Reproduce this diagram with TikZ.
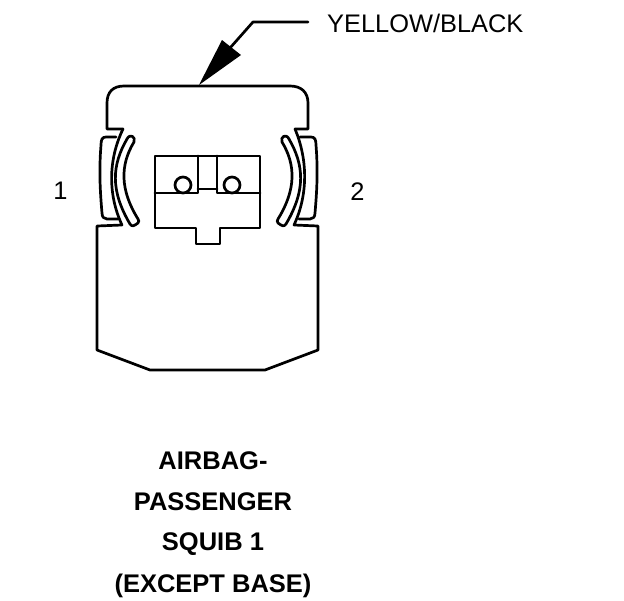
\documentclass[tikz,border=0pt]{standalone}
\usepackage{fontspec}
\setmainfont{Liberation Sans}
\tikzset{
  ln/.style={draw=black,line width=2.7pt,line join=round,line cap=round,fill=none},
  lbl/.style={inner sep=0pt,font=\fontsize{25.4}{30}\selectfont,text=black},
  ttl/.style={inner sep=0pt,font=\fontsize{25.5}{30}\selectfont\bfseries,text=black}
}
\begin{document}
\begin{tikzpicture}[x=1pt,y=-1pt]
\useasboundingbox (0,0) rectangle (624,600);
\fill[white] (0,0) rectangle (624,600);
% arrow leader
\coordinate (leadA) at (308,22);
\coordinate (leadB) at (253,22);
\coordinate (leadC) at (230,48);
\coordinate (tip) at (199,85);
\draw[ln] (leadA) -- (leadB) -- (leadC);
\fill[black] (tip) -- (222,40) -- (241,55) -- cycle;
% cap
\draw[ln] (123,129) -- (107,129) -- (107,103) .. controls (107,92) and (113,86) .. (124,86) -- (290,86) .. controls (301,86) and (308,92) .. (308,103) -- (308,129) -- (295,129);
% body outer + base
\draw[ln] (123,129) .. controls (108,160) and (108,195) .. (122,225) -- (97,226) -- (97,350) -- (150,370) -- (265,370) -- (318,350) -- (318,226) -- (294,225) .. controls (308,195) and (308,160) .. (295,129);
% left latch
\draw[ln] (116,137) -- (106,137) .. controls (102,137) and (101,140) .. (101,145) .. controls (99,170) and (100,190) .. (102,213) .. controls (102,217) and (104,219) .. (107,219) -- (118,219);
% right latch
\draw[ln] (300,137) -- (311,137) .. controls (315,137) and (316,140) .. (316,145) .. controls (318,170) and (317,190) .. (315,213) .. controls (315,217) and (313,219) .. (310,219) -- (299,219);
% left banana
\draw[ln] (127,139) .. controls (112,165) and (110,190) .. (130,224) .. controls (132,227) and (134,226) .. (138,223) .. controls (139,222) and (139,220) .. (138,219) .. controls (120,190) and (120,165) .. (134,142) .. controls (136,137) and (130,133) .. (127,139) -- cycle;
% right banana
\draw[ln] (289,139) .. controls (304,165) and (306,190) .. (286,224) .. controls (284,227) and (282,226) .. (278,223) .. controls (277,222) and (277,220) .. (278,219) .. controls (296,190) and (296,165) .. (282,142) .. controls (280,137) and (286,133) .. (289,139) -- cycle;
% connector face
\draw[ln] (155,156) -- (260,156) -- (260,228) -- (220,228) -- (220,244) -- (196,244) -- (196,228) -- (155,228) -- cycle;
\draw[ln] (155,193) -- (198,193) -- (198,156);
\draw[ln] (260,193) -- (217,193) -- (217,156);
\draw[ln] (198,189) -- (217,189);
\draw[ln] (183,185) circle (8);
\draw[ln] (232,185) circle (8);
% labels
\node[lbl,anchor=west] (wire) at (327,23.5) {YELLOW/BLACK};
\node[lbl] (pinone) at (60.5,191) {1};
\node[lbl] (pintwo) at (357.5,191.5) {2};
\node[ttl] (t1) at (213,460.5) {AIRBAG-};
\node[ttl] (t2) at (213,501.5) {PASSENGER};
\node[ttl] (t3) at (213,544.5) {SQUIB 1};
\node[ttl] (t4) at (213,586) {(EXCEPT BASE)};
\end{tikzpicture}
\end{document}
